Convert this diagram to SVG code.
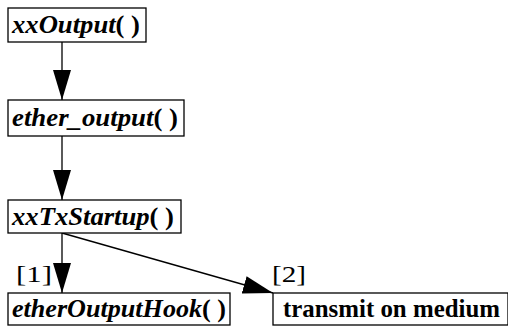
<svg xmlns="http://www.w3.org/2000/svg" width="508" height="329" viewBox="0 0 508 329">
<defs>
<style>
.box{fill:#fff;stroke:#000;stroke-width:1.3}
.t{font-family:"Liberation Serif","Times New Roman",serif;font-size:25px;font-weight:bold;fill:#000}
.i{font-style:italic}
.lbl{font-family:"Liberation Serif","Times New Roman",serif;font-size:24px;fill:#000}
.edge{stroke:#000;stroke-width:1.3;fill:none}
</style>
<marker id="ah" markerUnits="userSpaceOnUse" markerWidth="30" markerHeight="18" refX="30" refY="9" viewBox="0 0 30 18" orient="auto">
<path d="M0,0 L30,9 L0,18 Z" fill="#000"/>
</marker>
</defs>
<g id="edges">
<line class="edge" x1="62" y1="42" x2="62" y2="100" marker-end="url(#ah)"/>
<line class="edge" x1="62" y1="136" x2="62" y2="200" marker-end="url(#ah)"/>
<line class="edge" x1="62" y1="233" x2="62" y2="293" marker-end="url(#ah)"/>
<line class="edge" x1="62" y1="233" x2="273" y2="293" marker-end="url(#ah)"/>
<text class="lbl" x="16" y="282" textLength="36" lengthAdjust="spacingAndGlyphs">[1]</text>
<text class="lbl" x="272" y="282" textLength="34" lengthAdjust="spacingAndGlyphs">[2]</text>
</g>
<g id="xxOutput">
<rect class="box" x="8" y="8" width="138" height="34"/>
<text class="t" x="12" y="33" textLength="128" lengthAdjust="spacingAndGlyphs"><tspan class="i">xxOutput</tspan>( )</text>
</g>
<g id="ether_output">
<rect class="box" x="8" y="100" width="176" height="36"/>
<text class="t" x="12" y="126" textLength="166" lengthAdjust="spacingAndGlyphs"><tspan class="i">ether_output</tspan>( )</text>
</g>
<g id="xxTxStartup">
<rect class="box" x="8" y="200" width="173" height="33"/>
<text class="t" x="12" y="225" textLength="162" lengthAdjust="spacingAndGlyphs"><tspan class="i">xxTxStartup</tspan>( )</text>
</g>
<g id="etherOutputHook">
<rect class="box" x="8" y="293" width="222" height="32"/>
<text class="t" x="12" y="317" textLength="214" lengthAdjust="spacingAndGlyphs"><tspan class="i">etherOutputHook</tspan>( )</text>
</g>
<g id="transmit">
<rect class="box" x="273" y="293" width="235" height="32"/>
<text class="t" x="283" y="317" textLength="217" lengthAdjust="spacingAndGlyphs">transmit on medium</text>
</g>
</svg>
